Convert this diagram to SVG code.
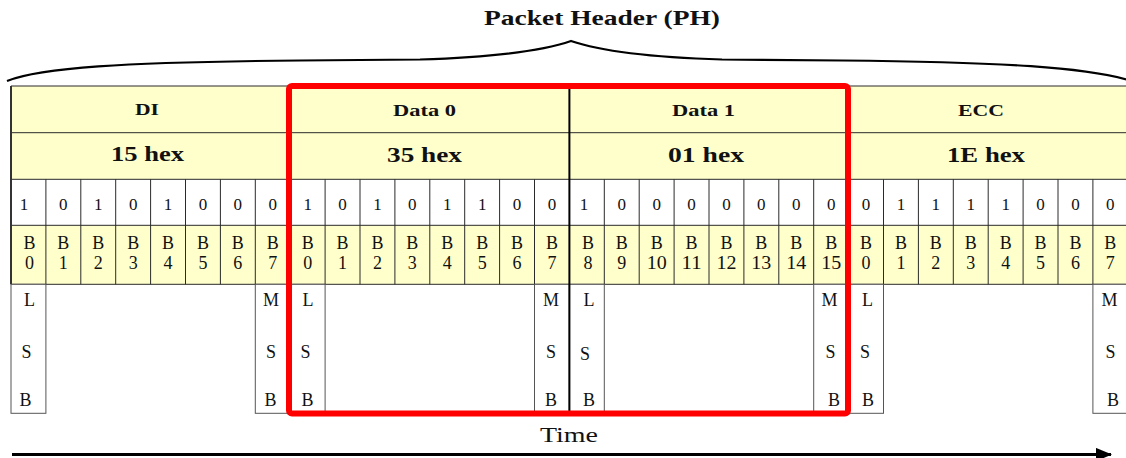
<svg xmlns="http://www.w3.org/2000/svg" width="1126" height="458" viewBox="0 0 1126 458">
<style>
.band{fill:#FFFFCC;stroke:none}
.grid{stroke:#2a2a2a;stroke-width:1;fill:none}
.col{fill:#fff;stroke:#555;stroke-width:1}
.hb{font-family:"Liberation Serif","Times New Roman",serif;font-weight:bold;fill:#111}
.t{font-family:"Liberation Serif","Times New Roman",serif;fill:#111;text-anchor:middle}
.bit{font-size:17px}
.bl{font-size:18px}
.ls{font-size:18px}
</style>
<defs>
<marker id="ah" markerWidth="5.4" markerHeight="4.4" refX="5" refY="2.2" orient="auto" markerUnits="strokeWidth">
<path d="M0,0 L5.4,2.2 L0,4.4 Z" fill="#000"/>
</marker>
</defs>
<rect width="1126" height="458" fill="#fff"/>

<g id="title">
<text class="hb" x="484" y="25" font-size="22" textLength="236" lengthAdjust="spacingAndGlyphs">Packet Header (PH)</text>
<path d="M7,81 C40,68 120,62 300,60.5 L420,59.5 C500,57 545,50 571,41 C597,50 642,57 722,59.5 L842,60.5 C1000,62 1090,67 1135,82" fill="none" stroke="#000" stroke-width="2.2"/>
</g>

<g id="table-bg">
<rect class="band" x="11" y="86" width="1120" height="93.3"/>
<rect fill="#fff" x="11" y="179.3" width="1120" height="46"/>
<rect class="band" x="11" y="225.3" width="1120" height="59"/>
<path class="grid" d="M11,86 H1130 M11,132.7 H1130 M11,179.3 H1130 M11,225.3 H1130 M11,284.3 H1130"/>
<path class="grid" d="M45.9,179.3V284.3 M80.8,179.3V284.3 M115.7,179.3V284.3 M150.6,179.3V284.3 M185.5,179.3V284.3 M220.4,179.3V284.3 M255.3,179.3V284.3 M325.1,179.3V284.3 M360,179.3V284.3 M394.9,179.3V284.3 M429.8,179.3V284.3 M464.7,179.3V284.3 M499.6,179.3V284.3 M534.5,179.3V284.3 M604.3,179.3V284.3 M639.2,179.3V284.3 M674.1,179.3V284.3 M709,179.3V284.3 M743.9,179.3V284.3 M778.8,179.3V284.3 M813.7,179.3V284.3 M883.5,179.3V284.3 M918.4,179.3V284.3 M953.3,179.3V284.3 M988.2,179.3V284.3 M1023.1,179.3V284.3 M1058,179.3V284.3 M1092.9,179.3V284.3"/>
<path d="M290.2,86V284.3 M848.6,86V284.3" stroke="#2a2a2a" stroke-width="1.2"/>
<path d="M11,86V284.3" stroke="#333" stroke-width="2"/>
</g>

<g id="field-DI">
<text class="hb" x="135" y="115" font-size="17" textLength="24" lengthAdjust="spacingAndGlyphs">DI</text>
<text class="hb" x="111" y="161" font-size="22" textLength="73" lengthAdjust="spacingAndGlyphs">15 hex</text>
<g class="t bit">
<text x="24" y="209.5">1</text><text x="63.35" y="209.5">0</text><text x="98.25" y="209.5">1</text><text x="133.15" y="209.5">0</text><text x="168.05" y="209.5">1</text><text x="202.95" y="209.5">0</text><text x="237.85" y="209.5">0</text><text x="272.75" y="209.5">0</text>
</g>
<g class="t bl">
<text x="29.5" y="248.5">B</text><text x="29.5" y="268.5">0</text>
<text x="63.35" y="248.5">B</text><text x="63.35" y="268.5">1</text>
<text x="98.25" y="248.5">B</text><text x="98.25" y="268.5">2</text>
<text x="133.15" y="248.5">B</text><text x="133.15" y="268.5">3</text>
<text x="168.05" y="248.5">B</text><text x="168.05" y="268.5">4</text>
<text x="202.95" y="248.5">B</text><text x="202.95" y="268.5">5</text>
<text x="237.85" y="248.5">B</text><text x="237.85" y="268.5">6</text>
<text x="272.75" y="248.5">B</text><text x="272.75" y="268.5">7</text>
</g>
<rect class="col" x="11" y="284.3" width="34.9" height="129"/>
<rect class="col" x="255.3" y="284.3" width="34.9" height="129"/>
<g class="t ls">
<text x="29.5" y="306">L</text><text x="26.5" y="358">S</text><text x="25.5" y="405.5">B</text>
<text x="271" y="306">M</text><text x="271" y="358">S</text><text x="270.5" y="405.5">B</text>
</g>
</g>

<g id="field-Data0">
<text class="hb" x="393" y="116" font-size="17" textLength="63" lengthAdjust="spacingAndGlyphs">Data 0</text>
<text class="hb" x="387" y="161.7" font-size="22" textLength="75" lengthAdjust="spacingAndGlyphs">35 hex</text>
<g class="t bit">
<text x="307.65" y="209.5">1</text><text x="342.55" y="209.5">0</text><text x="377.45" y="209.5">1</text><text x="412.35" y="209.5">0</text><text x="447.25" y="209.5">1</text><text x="482.15" y="209.5">1</text><text x="517.05" y="209.5">0</text><text x="551.95" y="209.5">0</text>
</g>
<g class="t bl">
<text x="307.65" y="248.5">B</text><text x="307.65" y="268.5">0</text>
<text x="342.55" y="248.5">B</text><text x="342.55" y="268.5">1</text>
<text x="377.45" y="248.5">B</text><text x="377.45" y="268.5">2</text>
<text x="412.35" y="248.5">B</text><text x="412.35" y="268.5">3</text>
<text x="447.25" y="248.5">B</text><text x="447.25" y="268.5">4</text>
<text x="482.15" y="248.5">B</text><text x="482.15" y="268.5">5</text>
<text x="517.05" y="248.5">B</text><text x="517.05" y="268.5">6</text>
<text x="551.95" y="248.5">B</text><text x="551.95" y="268.5">7</text>
</g>
<rect class="col" x="290.2" y="284.3" width="34.9" height="129"/>
<rect class="col" x="534.5" y="284.3" width="34.9" height="129"/>
<g class="t ls">
<text x="308" y="306">L</text><text x="305.5" y="358">S</text><text x="307.5" y="405.5">B</text>
<text x="551" y="306">M</text><text x="551" y="358">S</text><text x="551" y="405.5">B</text>
</g>
</g>

<g id="field-Data1">
<text class="hb" x="672" y="116" font-size="17" textLength="63" lengthAdjust="spacingAndGlyphs">Data 1</text>
<text class="hb" x="668" y="161.7" font-size="22" textLength="76" lengthAdjust="spacingAndGlyphs">01 hex</text>
<g class="t bit">
<text x="584" y="209.5">1</text><text x="621.75" y="209.5">0</text><text x="656.65" y="209.5">0</text><text x="691.55" y="209.5">0</text><text x="726.45" y="209.5">0</text><text x="761.35" y="209.5">0</text><text x="796.25" y="209.5">0</text><text x="831.15" y="209.5">0</text>
</g>
<g class="t bl">
<text x="588" y="248.5">B</text><text x="588" y="268.5">8</text>
<text x="621.75" y="248.5">B</text><text x="621.75" y="268.5">9</text>
<text x="656.65" y="248.5">B</text><text x="656.65" y="268.5" textLength="20" lengthAdjust="spacingAndGlyphs">10</text>
<text x="691.55" y="248.5">B</text><text x="691.55" y="268.5" textLength="20" lengthAdjust="spacingAndGlyphs">11</text>
<text x="726.45" y="248.5">B</text><text x="726.45" y="268.5" textLength="20" lengthAdjust="spacingAndGlyphs">12</text>
<text x="761.35" y="248.5">B</text><text x="761.35" y="268.5" textLength="20" lengthAdjust="spacingAndGlyphs">13</text>
<text x="796.25" y="248.5">B</text><text x="796.25" y="268.5" textLength="20" lengthAdjust="spacingAndGlyphs">14</text>
<text x="831.15" y="248.5">B</text><text x="831.15" y="268.5" textLength="20" lengthAdjust="spacingAndGlyphs">15</text>
</g>
<rect class="col" x="569.4" y="284.3" width="34.9" height="129"/>
<rect class="col" x="813.7" y="284.3" width="34.9" height="129"/>
<g class="t ls">
<text x="589" y="306">L</text><text x="585" y="360">S</text><text x="589" y="405.5">B</text>
<text x="829.5" y="306">M</text><text x="830.5" y="358">S</text><text x="834" y="405.5">B</text>
</g>
</g>

<g id="field-ECC">
<text class="hb" x="958" y="116" font-size="17" textLength="46" lengthAdjust="spacingAndGlyphs">ECC</text>
<text class="hb" x="947" y="162" font-size="22" textLength="78" lengthAdjust="spacingAndGlyphs">1E hex</text>
<g class="t bit">
<text x="866.05" y="209.5">0</text><text x="900.95" y="209.5">1</text><text x="935.85" y="209.5">1</text><text x="970.75" y="209.5">1</text><text x="1005.65" y="209.5">1</text><text x="1040.55" y="209.5">0</text><text x="1075.45" y="209.5">0</text><text x="1110.35" y="209.5">0</text>
</g>
<g class="t bl">
<text x="866.05" y="248.5">B</text><text x="866.05" y="268.5">0</text>
<text x="900.95" y="248.5">B</text><text x="900.95" y="268.5">1</text>
<text x="935.85" y="248.5">B</text><text x="935.85" y="268.5">2</text>
<text x="970.75" y="248.5">B</text><text x="970.75" y="268.5">3</text>
<text x="1005.65" y="248.5">B</text><text x="1005.65" y="268.5">4</text>
<text x="1040.55" y="248.5">B</text><text x="1040.55" y="268.5">5</text>
<text x="1075.45" y="248.5">B</text><text x="1075.45" y="268.5">6</text>
<text x="1110.35" y="248.5">B</text><text x="1110.35" y="268.5">7</text>
</g>
<rect class="col" x="848.6" y="284.3" width="34.9" height="129"/>
<rect class="col" x="1092.9" y="284.3" width="34.9" height="129"/>
<g class="t ls">
<text x="867.5" y="306">L</text><text x="865" y="358">S</text><text x="868" y="405.5">B</text>
<text x="1109.5" y="306">M</text><text x="1110.5" y="358">S</text><text x="1113" y="405.5">B</text>
</g>
</g>

<g id="divider">
<path d="M569.4,86V413.3" stroke="#000" stroke-width="2"/>
</g>

<g id="highlight">
<rect x="289" y="86" width="559" height="327.5" rx="3" fill="none" stroke="#FF0000" stroke-width="6"/>
</g>

<g id="connectors">
<text class="t" x="569" y="441.7" font-size="22" textLength="58" lengthAdjust="spacingAndGlyphs">Time</text>
<line x1="12" y1="454.5" x2="1111" y2="454.5" stroke="#000" stroke-width="3" marker-end="url(#ah)"/>
</g>
</svg>
